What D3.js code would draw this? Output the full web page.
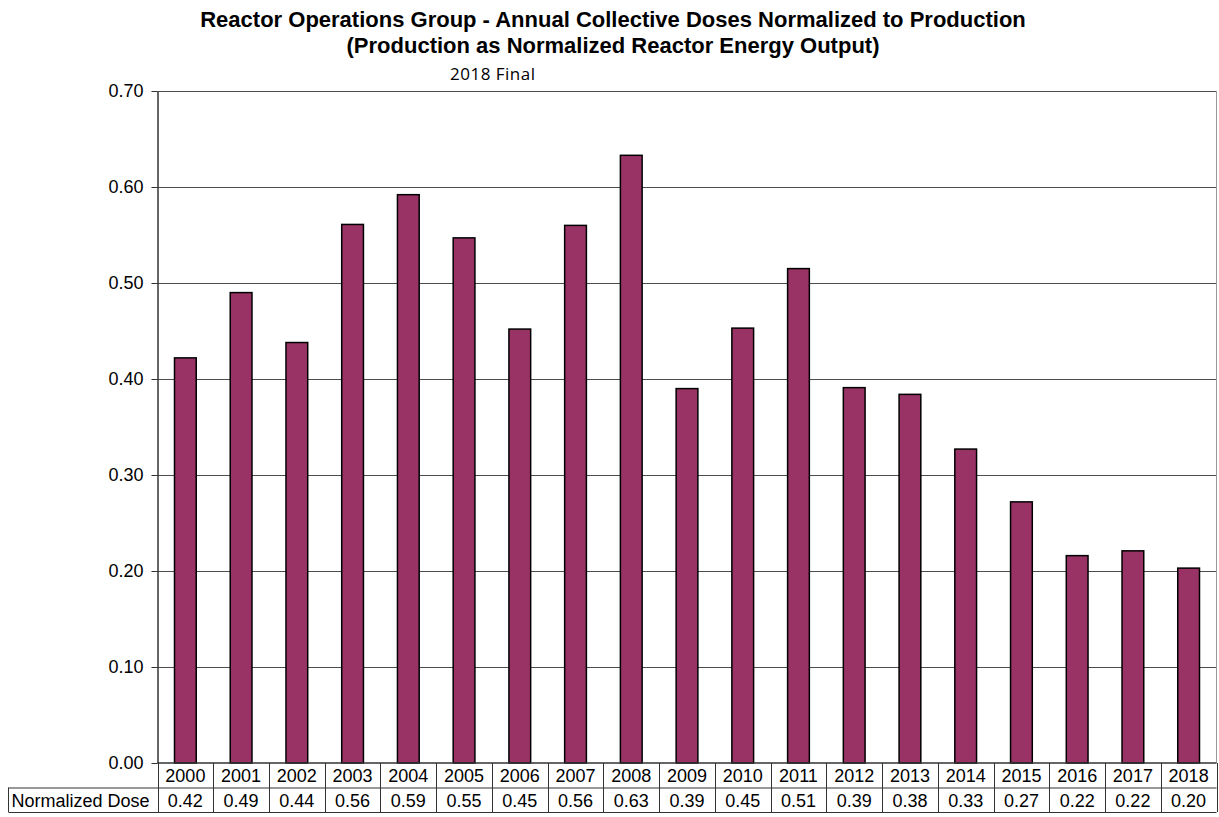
<!DOCTYPE html>
<html>
<head>
<meta charset="utf-8">
<script src="https://cdn.jsdelivr.net/npm/d3@7"></script>
<style>
  body { margin: 0; background: #fff; }
  svg text { font-family: "Liberation Sans", Arial, sans-serif; }
</style>
</head>
<body>
<div id="chart"></div>
<script>
// data
const years = ["2000", "2001", "2002", "2003", "2004", "2005", "2006", "2007", "2008", "2009",
    "2010", "2011", "2012", "2013", "2014", "2015", "2016", "2017", "2018"];
const doses = [0.422, 0.490, 0.438, 0.561, 0.592, 0.547, 0.452, 0.560, 0.633, 0.390,
    0.453, 0.515, 0.391, 0.384, 0.327, 0.272, 0.216, 0.221, 0.203];
const doseLabels = ["0.42", "0.49", "0.44", "0.56", "0.59", "0.55", "0.45", "0.56", "0.63", "0.39",
    "0.45", "0.51", "0.39", "0.38", "0.33", "0.27", "0.22", "0.22", "0.20"];
const yTicks = [0, 0.1, 0.2, 0.3, 0.4, 0.5, 0.6, 0.7];
const rowHeader = "Normalized Dose";

const W = 1219, H = 817;
const plot = { left: 157.5, right: 1216.5, top: 91, bottom: 763 };
const rowH = 24.5;

const svg = d3.select("#chart").append("svg")
    .attr("width", W)
    .attr("height", H);

const x = d3.scaleBand()
    .domain(years)
    .range([plot.left, plot.right])
    .paddingInner(0.61)
    .paddingOuter(0.305);

const xCol = d3.scaleBand()
    .domain(years)
    .range([plot.left, plot.right]);

const y = d3.scaleLinear()
    .domain([0, 0.7])
    .range([plot.bottom, plot.top]);

// titles
svg.append("text")
    .attr("x", 613).attr("y", 27)
    .attr("text-anchor", "middle")
    .attr("font-size", "22px").attr("font-weight", "bold")
    .text("Reactor Operations Group - Annual Collective Doses Normalized to Production");
svg.append("text")
    .attr("x", 613).attr("y", 53)
    .attr("text-anchor", "middle")
    .attr("font-size", "22px").attr("font-weight", "bold")
    .text("(Production as Normalized Reactor Energy Output)");
svg.append("text")
    .attr("x", 450).attr("y", 80)
    .attr("font-size", "17px")
    .attr("textLength", 85)
    .style("font-family", "'Open Sans', sans-serif")
    .text("2018 Final");

// gridlines
svg.append("g")
    .selectAll("line")
    .data(yTicks.filter(d => d > 0))
    .join("line")
    .attr("x1", plot.left).attr("x2", plot.right)
    .attr("y1", d => Math.round(y(d)) + 0.5).attr("y2", d => Math.round(y(d)) + 0.5)
    .attr("stroke", "#4d4d4d").attr("stroke-width", 1);

// right border of plot
svg.append("line")
    .attr("x1", plot.right).attr("x2", plot.right)
    .attr("y1", plot.top).attr("y2", plot.bottom)
    .attr("stroke", "#999").attr("stroke-width", 1);

// bars
svg.append("g")
    .selectAll("rect")
    .data(doses)
    .join("rect")
    .attr("x", (d, i) => x(years[i]))
    .attr("y", d => y(d))
    .attr("width", x.bandwidth())
    .attr("height", d => plot.bottom - y(d))
    .attr("fill", "#993366")
    .attr("stroke", "#000")
    .attr("stroke-width", 1.5);

// y axis
const yAxis = svg.append("g")
    .attr("transform", `translate(${plot.left},0)`)
    .call(d3.axisLeft(y).tickValues(yTicks).tickFormat(d3.format(".2f")).tickSize(6).tickSizeOuter(0));
yAxis.select(".domain").attr("stroke", "#333").attr("stroke-width", 1.5);
yAxis.selectAll(".tick line").attr("stroke", "#333");
yAxis.selectAll("text")
    .attr("x", -14)
    .attr("font-size", "18px")
    .attr("fill", "#000")
    .style("font-family", "'Liberation Sans', Arial, sans-serif");

// x axis line
svg.append("line")
    .attr("x1", plot.left).attr("x2", plot.right)
    .attr("y1", plot.bottom).attr("y2", plot.bottom)
    .attr("stroke", "#333").attr("stroke-width", 1.5);

// data table
const table = svg.append("g");
const tableLeft = 8.5;
const row1 = plot.bottom, row2 = plot.bottom + rowH, row3 = plot.bottom + 2 * rowH;

// horizontal lines
table.append("line")
    .attr("x1", tableLeft).attr("x2", plot.right)
    .attr("y1", row2 + 0.5).attr("y2", row2 + 0.5)
    .attr("stroke", "#333");
table.append("line")
    .attr("x1", tableLeft).attr("x2", plot.right)
    .attr("y1", row3 + 0.5).attr("y2", row3 + 0.5)
    .attr("stroke", "#333");
table.append("line")
    .attr("x1", tableLeft).attr("x2", tableLeft)
    .attr("y1", row2).attr("y2", row3)
    .attr("stroke", "#333");

// column dividers
table.selectAll("line.col")
    .data(years.concat(["end"]))
    .join("line")
    .attr("class", "col")
    .attr("x1", (d, i) => Math.round(i < years.length ? xCol(d) : plot.right) + 0.5)
    .attr("x2", (d, i) => Math.round(i < years.length ? xCol(d) : plot.right) + 0.5)
    .attr("y1", row1).attr("y2", row3)
    .attr("stroke", "#333");

table.selectAll("text.year")
    .data(years)
    .join("text")
    .attr("class", "year")
    .attr("x", d => xCol(d) + xCol.bandwidth() / 2)
    .attr("y", row1 + 19)
    .attr("text-anchor", "middle")
    .attr("font-size", "18px")
    .text(d => d);

table.selectAll("text.val")
    .data(doseLabels)
    .join("text")
    .attr("class", "val")
    .attr("x", (d, i) => xCol(years[i]) + xCol.bandwidth() / 2)
    .attr("y", row2 + 19)
    .attr("text-anchor", "middle")
    .attr("font-size", "18px")
    .text(d => d);

table.append("text")
    .attr("x", tableLeft + 3)
    .attr("y", row2 + 19)
    .attr("font-size", "18px")
    .text(rowHeader);
</script>
</body>
</html>
